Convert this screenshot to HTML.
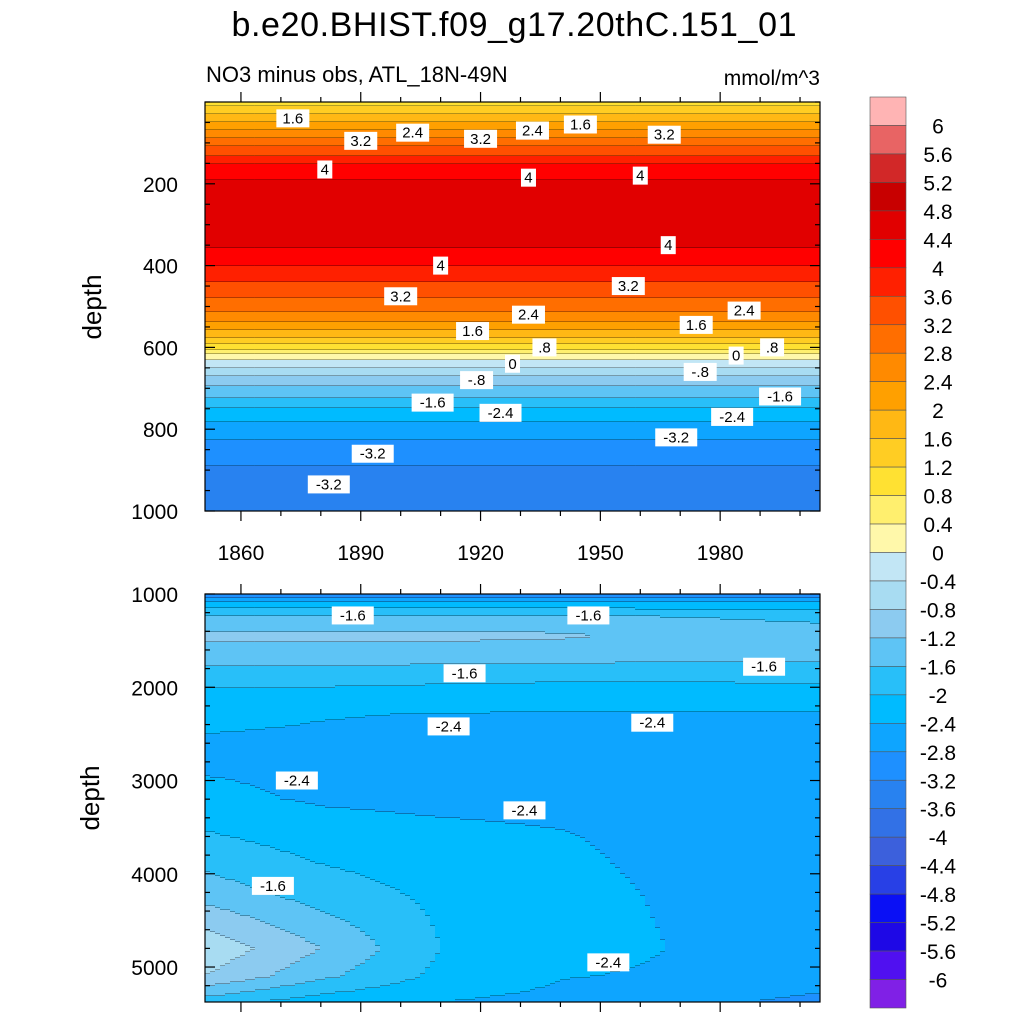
<!DOCTYPE html>
<html><head><meta charset="utf-8"><style>
body{margin:0;background:#fff;font-family:"Liberation Sans",sans-serif}
</style></head><body>
<svg id="s" width="1024" height="1024" xmlns="http://www.w3.org/2000/svg" font-family="Liberation Sans, sans-serif">
<text x="514" y="36" font-size="34" text-anchor="middle" textLength="565">b.e20.BHIST.f09_g17.20thC.151_01</text>
<text x="206" y="82" font-size="22">NO3 minus obs, ATL_18N-49N</text>
<text x="820" y="85" font-size="21" text-anchor="end">mmol/m^3</text>
<g id="top"></g>
<g id="bot"></g>
<g id="cb"></g>
<text transform="translate(101,307) rotate(-90)" font-size="26" text-anchor="middle">depth</text>
<text transform="translate(99,798) rotate(-90)" font-size="26" text-anchor="middle">depth</text>
</svg>
<script>
const levels=[6,5.6,5.2,4.8,4.4,4,3.6,3.2,2.8,2.4,2,1.6,1.2,0.8,0.4,0,-0.4,-0.8,-1.2,-1.6,-2,-2.4,-2.8,-3.2,-3.6,-4,-4.4,-4.8,-5.2,-5.6,-6];
const colors=["#ffb4b4","#e86464","#d22828","#c80000","#e10000","#ff0000","#ff2000","#ff5000","#ff6e00","#ff8a00","#ffa000","#ffb814","#ffcd23","#ffe132","#ffef6e","#fff8aa","#c2e6f5","#a8dcf2","#8ccbf0","#5ec4f5","#28bff9","#00bbff","#0ea5ff","#1e90ff","#2882f0","#3271e6","#3c60dc","#2840e6","#0a10f5","#1e08e6","#5010f0","#8020e6"];
const cbLabels=["6","5.6","5.2","4.8","4.4","4","3.6","3.2","2.8","2.4","2","1.6","1.2","0.8","0.4","0","-0.4","-0.8","-1.2","-1.6","-2","-2.4","-2.8","-3.2","-3.6","-4","-4.4","-4.8","-5.2","-5.6","-6"];
// upper panel: depth profile (uniform in time)
const topDepths=[0,10,50,100,150,200,250,300,350,400,450,500,540,580,610,630,660,700,750,800,850,900,950,1000];
const topValues=[1.0,1.2,2.0,3.0,4.0,4.5,4.7,4.7,4.45,4.0,3.5,3.0,2.4,1.5,0.7,0.0,-0.6,-1.3,-2.0,-2.6,-3.0,-3.25,-3.4,-3.45];
// lower panel: coarse grid years x depths
const botYears=[1851,1880,1910,1940,1970,2005];
const botDepths=[1000,1100,1250,1450,1700,2000,2300,2700,3200,3600,4200,4800,5100,5375];
const botValues=[
[-3.2,-3.2,-3.2,-3.2,-3.2,-3.2],
[-2.3,-2.3,-2.3,-2.3,-2.3,-2.3],
[-1.5,-1.5,-1.5,-1.5,-1.6,-1.7],
[-1.1,-1.1,-1.1,-1.15,-1.3,-1.4],
[-1.45,-1.45,-1.5,-1.5,-1.55,-1.55],
[-2.0,-2.0,-2.05,-2.1,-2.1,-2.05],
[-2.3,-2.38,-2.42,-2.44,-2.45,-2.45],
[-2.5,-2.5,-2.5,-2.55,-2.55,-2.6],
[-2.3,-2.45,-2.5,-2.5,-2.55,-2.6],
[-1.95,-2.2,-2.3,-2.38,-2.5,-2.55],
[-1.4,-1.8,-2.1,-2.3,-2.45,-2.55],
[-0.5,-1.2,-2.0,-2.25,-2.42,-2.5],
[-0.8,-1.5,-2.1,-2.38,-2.45,-2.6],
[-1.8,-2.2,-2.4,-2.5,-2.7,-2.9]];
const xTicks=[1860,1890,1920,1950,1980];
const topYTicks=[200,400,600,800,1000];
const botYTicks=[1000,2000,3000,4000,5000];
const topLabels=[[1873,40,"1.6"],[1890,95,"3.2"],[1903,75,"2.4"],[1920,90,"3.2"],[1933,70,"2.4"],[1945,55,"1.6"],[1966,80,"3.2"],[1881,165,"4"],[1932,185,"4"],[1960,180,"4"],[1967,350,"4"],[1910,400,"4"],[1900,475,"3.2"],[1957,450,"3.2"],[1932,520,"2.4"],[1918,560,"1.6"],[1974,545,"1.6"],[1986,510,"2.4"],[1936,600,".8"],[1928,640,"0"],[1984,620,"0"],[1993,600,".8"],[1919,680,"-.8"],[1975,660,"-.8"],[1995,720,"-1.6"],[1908,735,"-1.6"],[1925,760,"-2.4"],[1983,770,"-2.4"],[1969,820,"-3.2"],[1893,860,"-3.2"],[1882,935,"-3.2"]];
const botLabels=[[1888,1230,"-1.6"],[1947,1230,"-1.6"],[1916,1850,"-1.6"],[1991,1780,"-1.6"],[1912,2420,"-2.4"],[1963,2380,"-2.4"],[1874,3000,"-2.4"],[1931,3320,"-2.4"],[1868,4130,"-1.6"],[1952,4950,"-2.4"]];
const NS="http://www.w3.org/2000/svg";
function mk(t,a,p){const e=document.createElementNS(NS,t);for(const k in a)e.setAttribute(k,a[k]);p.appendChild(e);return e;}
function bin(v){for(let i=0;i<levels.length;i++){if(v>levels[i])return i;}return levels.length;}
function interp1(xs,ys,x){if(x<=xs[0])return ys[0];for(let i=1;i<xs.length;i++){if(x<=xs[i]){const t=(x-xs[i-1])/(xs[i]-xs[i-1]);return ys[i-1]+t*(ys[i]-ys[i-1]);}}return ys[ys.length-1];}
function drawPanel(g,P,valFn,ticksY,labels,minorY){
  const xs=y=>P.x0+(y-1851)*(P.x1-P.x0)/(2005-1851);
  const ys=d=>P.y0+(d-P.d0)*(P.y1-P.y0)/(P.d1-P.d0);
  const colW=5,rowH=2;
  for(let x=P.x0;x<P.x1;x+=colW){
    const w=Math.min(colW,P.x1-x);
    const yr=1851+(x+colW/2-P.x0)*(2005-1851)/(P.x1-P.x0);
    let segStart=P.y0,cur=null;
    for(let y=P.y0;y<P.y1;y+=rowH){
      const d=P.d0+(y+rowH/2-P.y0)*(P.d1-P.d0)/(P.y1-P.y0);
      const b=bin(valFn(yr,d));
      if(cur===null)cur=b;
      if(b!==cur){
        const r=mk("rect",{x:x,y:segStart,width:w+0.5,height:y-segStart+0.5,fill:colors[cur]},g);
        
        
        const l=mk("line",{x1:x,x2:x+w,y1:y,y2:y,stroke:"#000","stroke-width":0.6},g);
        
        
        segStart=y;cur=b;
      }
    }
    const r=mk("rect",{x:x,y:segStart,width:w+0.5,height:P.y1-segStart,fill:colors[cur]},g);
    
    
  }
  const fr=mk("rect",{x:P.x0,y:P.y0,width:P.x1-P.x0,height:P.y1-P.y0,fill:"none",stroke:"#000","stroke-width":1.2},g);
  
  for(let yr=1860;yr<=2000;yr+=10){const x=xs(yr),maj=xTicks.includes(yr);const L=maj?10:5;
    [[P.y1,1],[P.y0,-1]].forEach(([yy,s])=>{const t=mk("line",{x1:x,x2:x,y1:yy,y2:yy+s*L,stroke:"#000","stroke-width":1.2},g);
    });
    if(P.xl&&maj){const t=mk("text",{x:x,y:P.y1+49,"font-size":21,"text-anchor":"middle"},g);t.textContent=yr;
    }}
  for(let d=minorY[0];d<=P.d1;d+=minorY[1]){const y=ys(d);if(y<P.y0-0.5||y>P.y1+0.5)continue;const maj=ticksY.includes(d);const L=maj?10:5;
    [[P.x0,1],[P.x1,-1]].forEach(([xx,s])=>{const t=mk("line",{x1:xx,x2:xx+s*L,y1:y,y2:y,stroke:"#000","stroke-width":1.2},g);
    });
    if(maj){const t=mk("text",{x:P.x0-27,y:y+8,"font-size":21,"text-anchor":"end"},g);t.textContent=d;
    }}
  labels.forEach(([yr,d,s])=>{const x=xs(yr),y=ys(d);const w=s.length*9+6;
    const r=mk("rect",{x:x-w/2,y:y-9,width:w,height:18,fill:"#fff"},g);
    const t=mk("text",{x:x,y:y+5,"font-size":15,"text-anchor":"middle"},g);t.textContent=s;});
}
drawPanel(document.getElementById("top"),{x0:205,x1:820,y0:102,y1:511,d0:0,d1:1000,xl:true},(yr,d)=>interp1(topDepths,topValues,d),topYTicks,topLabels,[0,50]);
drawPanel(document.getElementById("bot"),{x0:205,x1:820,y0:594,y1:1002,d0:1000,d1:5375,xl:false},(yr,d)=>{
  const col=botValues.map(r=>interp1(botYears,r,yr));return interp1(botDepths,col,d);},botYTicks,botLabels,[1000,200]);
// colorbar
const cb=document.getElementById("cb");const cy0=97,cy1=1008,bh=(cy1-cy0)/colors.length;
colors.forEach((c,i)=>{const r=mk("rect",{x:870,y:cy0+i*bh,width:36,height:bh,fill:c,stroke:"#555","stroke-width":0.6},cb);
});
cbLabels.forEach((s,i)=>{const t=mk("text",{x:938,y:cy0+(i+1)*bh+8,"font-size":21,"text-anchor":"middle"},cb);t.textContent=s;
});
</script>
</body></html>
